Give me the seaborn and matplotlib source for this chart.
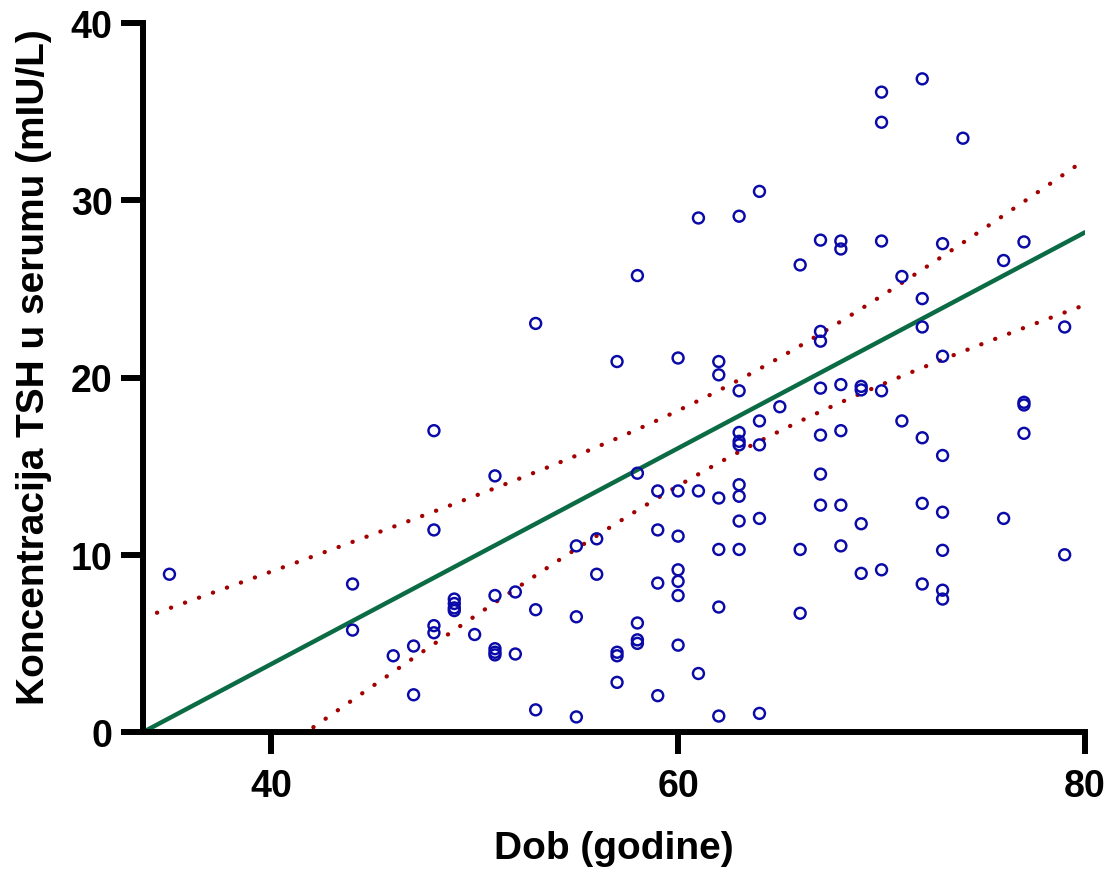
import numpy as np
import pandas as pd
import seaborn as sns
import matplotlib.pyplot as plt

# age (years) and serum TSH values
age = [35, 44, 44, 46, 47, 47, 48, 48, 48, 48, 49, 49, 49, 49, 50,
       51, 51, 51, 51, 51, 52, 52, 53, 53, 53, 55, 55, 55, 56, 56,
       57, 57, 57, 57, 58, 58, 58, 58, 58, 59, 59, 59, 59,
       60, 60, 60, 60, 60, 60, 60, 61, 61, 61,
       62, 62, 62, 62, 62, 62, 63, 63, 63, 63, 63, 63, 63, 63, 63,
       64, 64, 64, 64, 64, 65, 66, 66, 66,
       67, 67, 67, 67, 67, 67, 67, 68, 68, 68, 68, 68, 68,
       69, 69, 69, 69, 70, 70, 70, 70, 70, 71, 71,
       72, 72, 72, 72, 72, 72, 73, 73, 73, 73, 73, 73, 73,
       74, 76, 76, 77, 77, 77, 77, 79, 79]
tsh = [8.9, 8.35, 5.75, 4.3, 4.85, 2.1, 17.0, 11.4, 6.0, 5.6, 7.5, 7.25, 7.0, 6.85, 5.5,
       14.45, 7.7, 4.7, 4.5, 4.35, 7.9, 4.4, 23.05, 6.9, 1.25, 10.5, 6.5, 0.85, 10.9, 8.9,
       20.9, 4.5, 4.3, 2.8, 25.75, 14.6, 6.15, 5.2, 5.0, 13.6, 11.4, 8.4, 2.05,
       21.1, 13.6, 11.05, 9.15, 8.5, 7.7, 4.9, 29.0, 13.6, 3.3,
       20.9, 20.15, 13.2, 10.3, 7.05, 0.9, 29.1, 19.25, 16.9, 16.4, 16.2, 13.95, 13.3, 11.9, 10.3,
       30.5, 17.55, 16.2, 12.05, 1.05, 18.35, 26.35, 10.3, 6.7,
       27.75, 22.6, 22.05, 19.4, 16.75, 14.55, 12.8, 27.7, 27.25, 19.6, 17.0, 12.8, 10.5,
       19.5, 19.3, 11.75, 8.95, 36.1, 34.4, 27.7, 19.25, 9.15, 25.7, 17.55,
       36.85, 24.45, 22.85, 16.6, 12.9, 8.35, 27.55, 21.2, 15.6, 12.4, 10.25, 8.0, 7.5,
       33.5, 26.6, 12.05, 27.65, 18.6, 18.45, 16.85, 22.85, 10.0]

# fitted line and 95% confidence band parameters
fit_slope = 0.609
fit_intercept = -20.53
x_mean = 63.0
ci_mean = 2.03      # t * SE of the mean response at x_mean
ci_slope = 0.209    # t * SE of the slope

x_ticks = [40, 60, 80]
y_ticks = [0, 10, 20, 30, 40]
x_min, x_max = 33.7, 80
y_min, y_max = 0, 40

BLUE = "#0A0AA8"
GREEN = "#0B6B45"
RED = "#A30000"

df = pd.DataFrame({"age": age, "tsh": tsh})
xs = np.linspace(x_min, x_max, 300)
fit = fit_intercept + fit_slope * xs
half = np.sqrt(ci_mean ** 2 + (ci_slope * (xs - x_mean)) ** 2)
fit_df = pd.DataFrame({"x": xs, "fit": fit, "lo": fit - half, "hi": fit + half})

sns.set_style("ticks")
plt.rcParams["font.family"] = ["Liberation Sans", "DejaVu Sans"]
plt.rcParams["font.weight"] = "bold"
plt.rcParams["text.color"] = "black"
plt.rcParams["axes.labelcolor"] = "black"
plt.rcParams["xtick.color"] = "black"
plt.rcParams["ytick.color"] = "black"

fig = plt.figure(figsize=(11.13, 8.78), dpi=100)
ax = fig.add_axes([143 / 1113, 1 - 733 / 878, (1085 - 143) / 1113, (733 - 24) / 878])

for col in ["hi", "lo"]:
    sns.lineplot(data=fit_df, x="x", y=col, ax=ax, color=RED, lw=3.1,
                 linestyle=(0, (0.05, 3.4)), dash_capstyle="round")
sns.lineplot(data=fit_df, x="x", y="fit", ax=ax, color=GREEN, lw=3.2)
sns.scatterplot(data=df, x="age", y="tsh", ax=ax, marker="o", s=62,
                fc="none", ec=BLUE, linewidth=1.75, zorder=3)

ax.set_xlim(x_min, x_max)
ax.set_ylim(y_min, y_max)
ax.set_xticks(x_ticks)
ax.set_yticks(y_ticks)
ax.tick_params(axis="both", direction="out", length=16, width=4.3,
               labelsize=27, color="black", labelcolor="black",
               bottom=True, left=True)
ax.tick_params(axis="x", pad=10)
ax.tick_params(axis="y", pad=6)
for lab in ax.get_xticklabels() + ax.get_yticklabels():
    lab.set_fontweight("bold")

for side in ["top", "right"]:
    ax.spines[side].set_visible(False)
for side in ["left", "bottom"]:
    ax.spines[side].set_linewidth(4.3)
    ax.spines[side].set_color("black")
    ax.spines[side].set_capstyle("projecting")

ax.set_xlabel("Dob (godine)", fontsize=28, fontweight="bold", color="black")
ax.set_ylabel("Koncentracija TSH u serumu (mIU/L)", fontsize=28,
              fontweight="bold", color="black")
ax.xaxis.set_label_coords(0.5, -0.138)
ax.yaxis.set_label_coords(-0.097, 0.516)

fig.savefig("out.png", dpi=100)
